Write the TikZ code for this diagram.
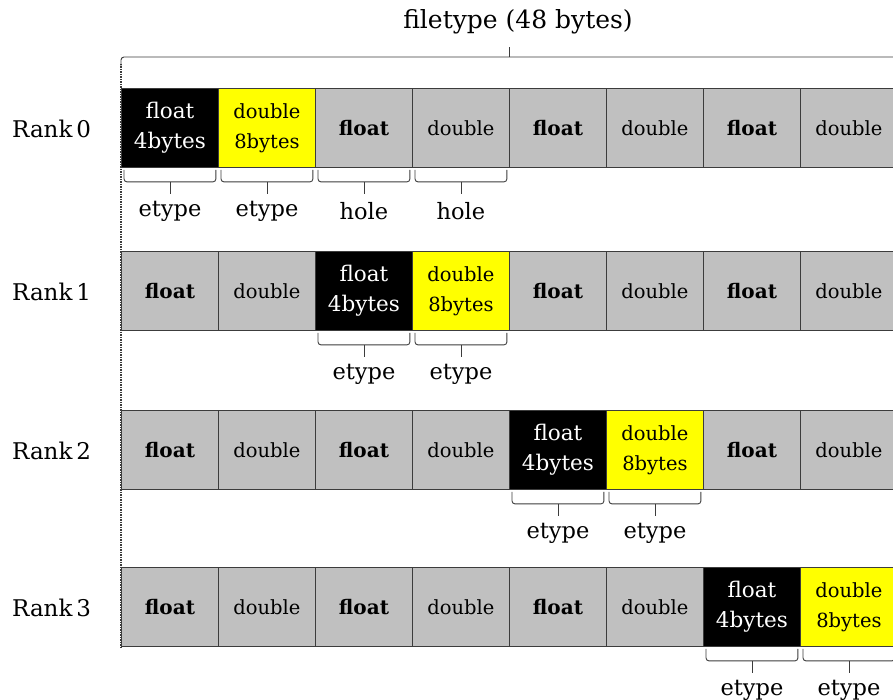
\documentclass[tikz,border=0pt]{standalone}
\usepackage{fontspec}
\setmainfont{DejaVu Serif}
\usetikzlibrary{calc}
\definecolor{cellgray}{RGB}{192,192,192}
\definecolor{edgegray}{RGB}{60,60,60}
\definecolor{ylw}{RGB}{255,255,0}
\begin{document}
\begin{tikzpicture}[x=1pt,y=-1pt,
  cell/.style={draw=edgegray, line width=0.9pt, minimum width=97pt, minimum height=79pt,
    inner sep=0pt, anchor=north west, fill=cellgray, align=center},
  flt/.style={cell, font=\fontsize{20}{22}\selectfont\bfseries},
  dbl/.style={cell, font=\fontsize{19.5}{22}\selectfont},
  etf/.style={cell, fill=black, text=white, font=\fontsize{21.5}{30}\selectfont},
  etd/.style={cell, fill=ylw, font=\fontsize{19.5}{30}\selectfont},
  brk/.style={draw=edgegray, line width=0.9pt, rounded corners=3pt},
  stem/.style={draw=edgegray, line width=0.9pt},
  lbl/.style={font=\fontsize{22.5}{24}\selectfont},
  rank/.style={font=\fontsize{23}{24}\selectfont, anchor=west, inner sep=0pt},
  ttl/.style={font=\fontsize{25}{28}\selectfont}]
\useasboundingbox (0,0) rectangle (893,700);
\clip (0,0) rectangle (893,700);

\foreach \r/\t/\k in {0/88/0, 1/251/2, 2/410/4, 3/567/6}{
  \foreach \c in {0,...,7}{
    \pgfmathtruncatemacro\d{\c-\k}
    \pgfmathtruncatemacro\x{121+97*\c}
    \ifnum\d=0 \node[etf] (r\r-\c) at (\x,\t) {float\\4bytes};
    \else\ifnum\d=1 \node[etd] (r\r-\c) at (\x,\t) {double\\8bytes};
    \else\ifodd\c \node[dbl] (r\r-\c) at (\x,\t) {double};
    \else \node[flt] (r\r-\c) at (\x,\t) {float};
    \fi\fi\fi
  }
  \pgfmathtruncatemacro\m{\t+41}
  \node[rank] (rank\r) at (12,\m) {Rank\,\r};
}

% title and top brace
\node[ttl] (title) at (518,22) {filetype (48 bytes)};
\coordinate (tl) at ($(r0-0.north west)+(0,-21)$);
\coordinate (tr) at ($(r0-7.north east)+(0,-21)$);
\coordinate (tm) at ($(tl)!0.5!(tr)+(0,-10)$);
\draw[brk] (tl) |- (tm) -| (tr);
\draw[stem] (tm) -- ++(0,-10);

% dotted left line
\coordinate (dtop) at ($(tl)+(0,-3)$);
\draw[edgegray, line width=1.2pt, dash pattern=on 1.5pt off 1pt] (dtop) -- (r3-0.south west);

% braces and labels
\foreach \r/\c/\txt in {0/0/etype, 0/1/etype, 0/2/hole, 0/3/hole,
                        1/2/etype, 1/3/etype, 2/4/etype, 2/5/etype,
                        3/6/etype, 3/7/etype}{
  \coordinate (bl) at ($(r\r-\c.south west)+(3,2)$);
  \coordinate (br) at ($(r\r-\c.south east)+(-3,2)$);
  \coordinate (bm) at ($(r\r-\c.south)+(0,14)$);
  \draw[brk] (bl) |- (bm) -| (br);
  \draw[stem] (bm) -- ++(0,12);
  \node[lbl] (l\r-\c) at ($(r\r-\c.south)+(0,43)$) {\txt};
}
\end{tikzpicture}
\end{document}
